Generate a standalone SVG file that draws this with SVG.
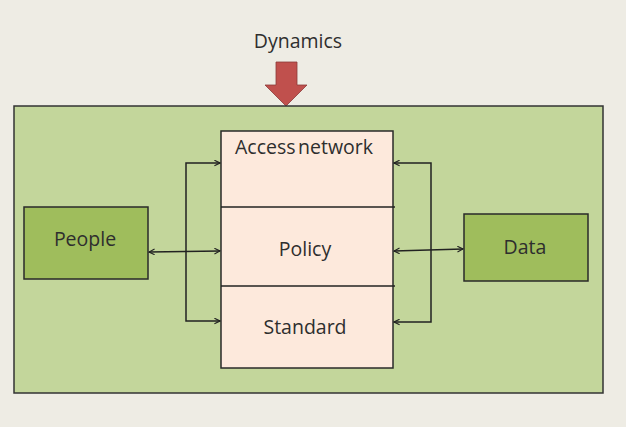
<svg xmlns="http://www.w3.org/2000/svg" width="626" height="427" viewBox="0 0 626 427">
  <defs>
    <marker id="arr" viewBox="0 0 10 10" refX="9" refY="5" markerWidth="7" markerHeight="7" orient="auto-start-reverse" markerUnits="userSpaceOnUse">
      <path d="M1,1 L9,5 L1,9" fill="none" stroke="#222" stroke-width="1.6"/>
    </marker>
    <style>
      .lbl { font-family: "Open Sans", "Liberation Sans", sans-serif; font-size: 19.5px; fill: #2e2e2e; text-anchor: middle; }
      .frame { fill: #c3d69b; stroke: #333; stroke-width: 1.5; }
      .actor { fill: #9fbd5c; stroke: #2a2a2a; stroke-width: 1.5; }
      .layer { fill: #fde9dc; stroke: #2a2a2a; stroke-width: 1.5; }
      .wire { fill: none; stroke: #222; stroke-width: 1.5; }
    </style>
  </defs>

  <rect width="626" height="427" fill="#eeece4"/>

  <g id="dynamics">
    <text class="lbl" x="298" y="48">Dynamics</text>
    <polygon points="276,62 297,62 297,85 307,85 286,106 265,85 276,85" fill="#c0504d" stroke="#8c3a38" stroke-width="0.8"/>
  </g>

  <g id="environment">
    <rect class="frame" x="14" y="106" width="589" height="287"/>
  </g>

  <g id="stack">
    <rect class="layer" x="221" y="131" width="172" height="237"/>
    <line class="wire" x1="221" y1="207" x2="395" y2="207"/>
    <line class="wire" x1="221" y1="286" x2="395" y2="286"/>
    <text class="lbl" x="304" y="154" word-spacing="-2.5">Access network</text>
    <text class="lbl" x="305" y="256">Policy</text>
    <text class="lbl" x="305" y="334">Standard</text>
  </g>

  <g id="people">
    <rect class="actor" x="24" y="207" width="124" height="72"/>
    <text class="lbl" x="85" y="246">People</text>
  </g>

  <g id="data">
    <rect class="actor" x="464" y="214" width="124" height="67"/>
    <text class="lbl" x="525" y="254">Data</text>
  </g>

  <g id="connectors">
    <path class="wire" d="M220,163 H186 V321 H220" marker-start="url(#arr)" marker-end="url(#arr)"/>
    <line class="wire" x1="149" y1="252" x2="220" y2="251" marker-start="url(#arr)" marker-end="url(#arr)"/>
    <path class="wire" d="M394,163 H431 V322 H394" marker-start="url(#arr)" marker-end="url(#arr)"/>
    <line class="wire" x1="394" y1="251" x2="463" y2="249" marker-start="url(#arr)" marker-end="url(#arr)"/>
  </g>
</svg>
